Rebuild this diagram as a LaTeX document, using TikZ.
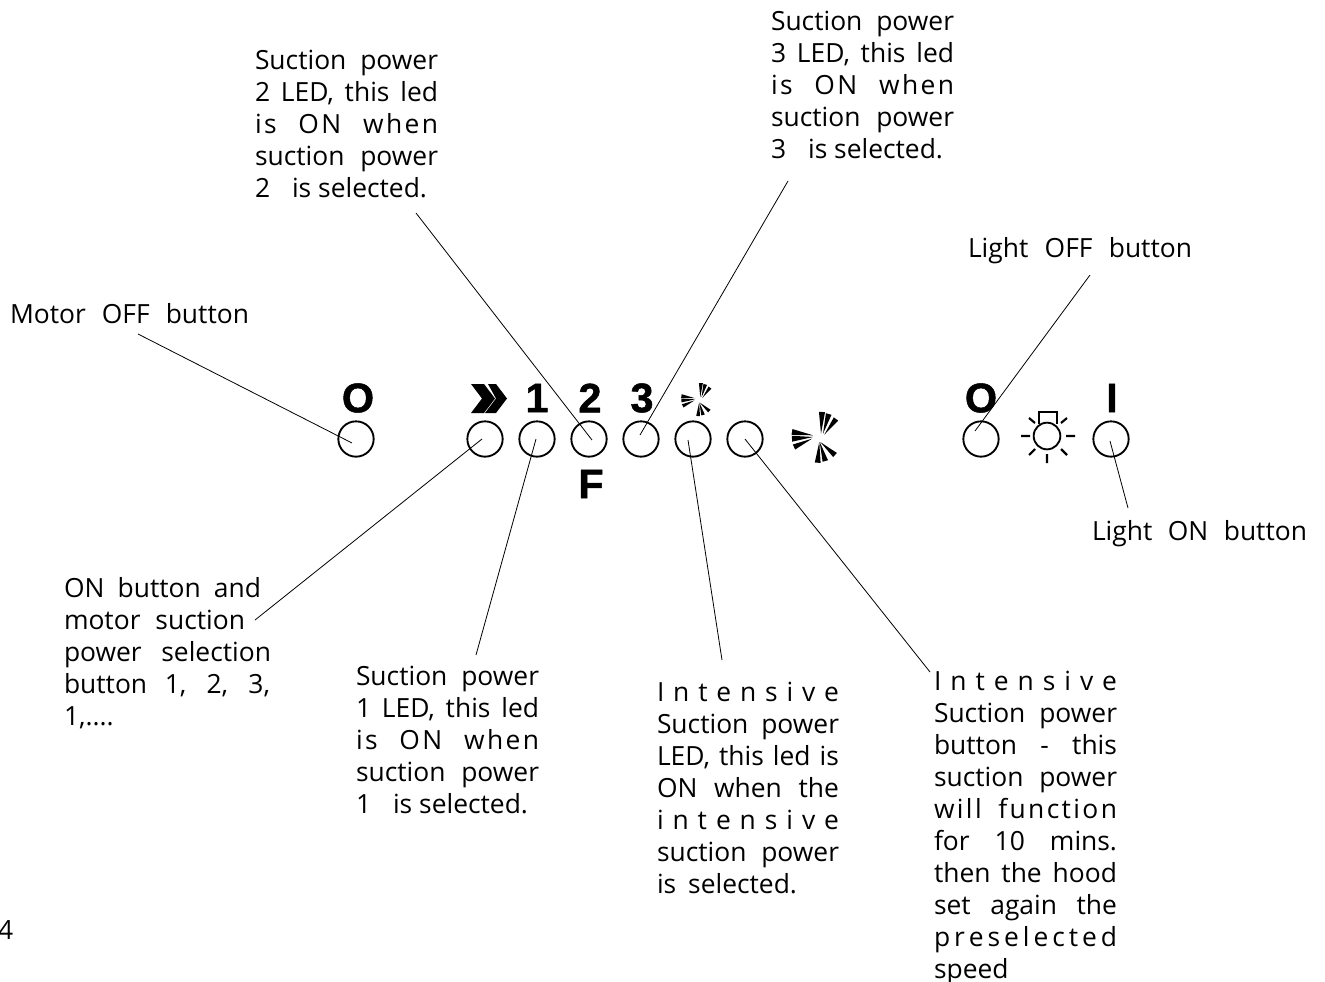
\documentclass[tikz,border=0pt]{standalone}
\usepackage{fontspec}
\setmainfont{Open Sans}
\newfontfamily\symfont{Liberation Sans Bold}[FakeBold=1.2]
\usetikzlibrary{calc}
\newcommand\LineW[2]{\hbox to #1\dimexpr.75pt\relax{\vrule height 18pt depth 6pt width 0pt\relax #2}}
\newcommand\Blk[1]{\vbox{\offinterlineskip #1}}
\newcommand\Sp[1]{\addfontfeature{LetterSpace=9}#1}
\newcommand\Gp{\hfil}
\newcommand\Inten{I\Gp n\Gp t\Gp e\Gp n\Gp s\Gp i\Gp v\Gp e}
\newcommand\inten{i\Gp n\Gp t\Gp e\Gp n\Gp s\Gp i\Gp v\Gp e}
\newcommand\presel{p\Gp r\Gp e\Gp s\Gp e\Gp l\Gp e\Gp c\Gp t\Gp e\Gp d}
\newcommand\Wedge[2]{\fill[black] #1 -- ($#2!0.14!90:#1$) -- ($#2!0.14!-90:#1$) -- cycle;}
\tikzset{
  x=.75pt,y=-.75pt,
  para/.style={anchor=north west,inner sep=0pt,outer sep=0pt,font=\fontsize{19.8pt}{24pt}\selectfont},
  btn/.style={circle,draw=black,line width=1.4pt,minimum size=26.5pt,inner sep=0pt,outer sep=0pt},
  lead/.style={draw=black,line width=.6pt},
  sym/.style={inner sep=0pt,outer sep=0pt,font=\fontsize{31pt}{31pt}\selectfont\symfont},
  fan/.pic={
    \Wedge{(-3,-2.7)}{(-24,-6)}
    \Wedge{(-3,-1)}{(-24,.7)}
    \Wedge{(-4,.7)}{(-22,9)}
    \Wedge{(5,-4.3)}{(6,-26)}
    \Wedge{(7,-4.3)}{(12.7,-24)}
    \Wedge{(8.3,-3.3)}{(20,-19)}
    \Wedge{(3.3,4)}{(1.7,24.7)}
    \Wedge{(3.7,4)}{(9.3,23)}
    \Wedge{(4.3,4)}{(19,17)}
  }
}
\begin{document}
\begin{tikzpicture}
\useasboundingbox (0,0) rectangle (1325,982);
% buttons
\foreach \n/\px in {bm/356,bp/485,bo/537,bt/589,bh/641,bi/693,bj/745,bl/981,bn/1111}
  \node[btn] (\n) at (\px,439) {};
% symbols
\node[sym] (so) at (358,398) {O};
\node[sym] (s1) at (537,398) {1};
\node[sym] (s2) at (590,398) {2};
\node[sym] (s3) at (642,398) {3};
\node[sym] (sf) at (591,484) {F};
\node[sym] (sl) at (981,398) {O};
\node[sym] (si) at (1112,398) {I};
\fill[black] (471,384) -- (484,384) -- (495,398.5) -- (484,413) -- (471,413) -- (482,398.5) -- cycle;
\fill[black] (488,384) -- (496,384) -- (507,398.5) -- (496,413) -- (485,413) -- (496,398.5) -- cycle;
\pic at (816,438) {fan};
\pic[scale=.65] at (697,400) {fan};
% lamp
\node[circle,draw=black,line width=1.4pt,minimum size=20pt,inner sep=0pt] (lamp) at (1047,436) {};
\draw[line width=1.4pt] (1039,424) -- (1039,412) -- (1057,412) -- (1057,424);
\draw[line width=1.6pt]
  (1021,436) -- (1030,436) (1066,436) -- (1075,436) (1047,454) -- (1047,463)
  (1029,418) -- (1035,423) (1067,418) -- (1061,423)
  (1029,455) -- (1035,449) (1067,455) -- (1061,449);
% labels
\node[para] (lS2) at (255,45) {\Blk{\LineW{183}{Suction power}\LineW{183}{2 LED, this led}\LineW{183}{\Sp{is ON when}}\LineW{183}{suction power}\LineW{172}{2 \hfil is selected.}}};
\node[para] (lS3) at (771,6) {\Blk{\LineW{183}{Suction power}\LineW{183}{3 LED, this led}\LineW{183}{\Sp{is ON when}}\LineW{183}{suction power}\LineW{172}{3 \hfil is selected.}}};
\node[para] (lOff) at (968,233) {\Blk{\LineW{224}{Light OFF button}}};
\node[para] (lM) at (10,299) {\Blk{\LineW{239}{Motor OFF button}}};
\node[para] (lOn) at (1092,516) {\Blk{\LineW{215}{Light ON button}}};
\node[para] (lP) at (64,573) {\Blk{\LineW{197}{ON button and}\LineW{181}{motor suction}\LineW{207}{power selection}\LineW{206}{button 1, 2, 3,}\LineW{56}{1,....\hfil}}};
\node[para] (lS1) at (356,661) {\Blk{\LineW{183}{Suction power}\LineW{183}{1 LED, this led}\LineW{183}{\Sp{is ON when}}\LineW{183}{suction power}\LineW{172}{1 \hfil is selected.}}};
\node[para] (lI) at (657,677) {\Blk{\LineW{182}{\Inten}\LineW{182}{Suction power}\LineW{182}{LED, this led is}\LineW{182}{ON when the}\LineW{182}{\inten}\LineW{182}{suction power}\LineW{140}{is selected.}}};
\node[para] (lB) at (934,666) {\Blk{\LineW{183}{\Inten}\LineW{183}{Suction power}\LineW{183}{button - this}\LineW{183}{suction power}\LineW{183}{\Sp{will function}}\LineW{183}{for 10 mins.}\LineW{183}{then the hood}\LineW{183}{set again the}\LineW{183}{\presel}\LineW{70}{speed\hfil}}};
\node[para] (pg) at (-2,915) {\Blk{\LineW{15}{4\hfil}}};
% connector ends
\coordinate (aM) at (138,334);  \coordinate (eM) at (352,443);
\coordinate (aS2) at (416,213); \coordinate (eS2) at (592,440);
\coordinate (aS3) at (788,181); \coordinate (eS3) at (640,435);
\coordinate (aOff) at (1090,275); \coordinate (eOff) at (975,431);
\coordinate (aOn) at (1128,508); \coordinate (eOn) at (1110,441);
\coordinate (aP) at (255,620);  \coordinate (eP) at (482,439);
\coordinate (aS1) at (476,655); \coordinate (eS1) at (536,439);
\coordinate (aI) at (722,660);  \coordinate (eI) at (688,440);
\coordinate (aB) at (930,672);  \coordinate (eB) at (745,439);
\foreach \k in {M,S2,S3,Off,On,P,S1,I,B} \draw[lead] (a\k) -- (e\k);
\end{tikzpicture}
\end{document}
